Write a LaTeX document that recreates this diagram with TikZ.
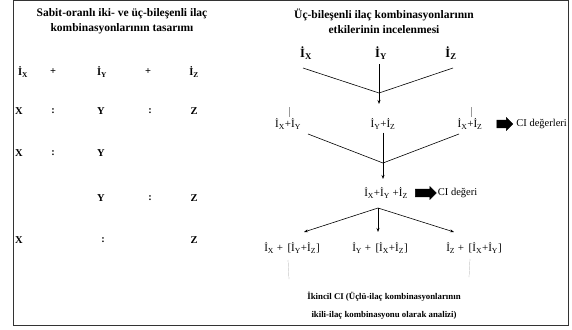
\documentclass[tikz,border=0pt]{standalone}
\usepackage{fontspec}
\setmainfont{Liberation Serif}
\usetikzlibrary{arrows.meta,positioning,shapes.arrows}

\newcommand{\drug}[1]{İ\textsubscript{#1}}

\begin{document}
\begin{tikzpicture}[
		x=1pt, y=-1pt,
		font=\fontsize{11}{13}\selectfont,
		>={Stealth[length=4pt,width=3pt]},
		title/.style={font=\fontsize{11.5}{15}\selectfont\bfseries, align=center, inner sep=0pt},
		cell/.style={font=\fontsize{10.5}{12}\selectfont\bfseries, inner sep=1pt},
		topdrug/.style={font=\fontsize{12.5}{14}\selectfont\bfseries, inner sep=1pt},
		combo/.style={inner sep=1pt},
		fatarrow/.style={
			single arrow, fill=black, draw=black,
			minimum height=16pt, minimum width=13pt,
			single arrow head extend=2.5pt, inner sep=3.5pt
		},
		cilabel/.style={font=\fontsize{10.5}{12}\selectfont, inner sep=0pt},
		line/.style={semithick},
		arr/.style={->, semithick},
		tick/.style={very thin, black!40},
		note/.style={font=\fontsize{8.8}{18}\selectfont\bfseries, align=center, inner sep=0pt}
	]
	
	\useasboundingbox (0,0) rectangle (572,329);
	\draw[black!80, line width=1pt] (13.5,1) rectangle (568.5,325.5);
	
	%% --- left: fixed-ratio design ---------------------------------------
	\node[title] (ltitle) at (122,21) {Sabit-oranlı iki- ve üç-bileşenli ilaç\\kombinasyonlarının tasarımı};
	
	\node[cell] (ax) at (23,72) {\drug{X}};
	\node[cell] (ap1) at (53,72) {+};
	\node[cell] (ay) at (102,72) {\drug{Y}};
	\node[cell] (ap2) at (148,72) {+};
	\node[cell] (az) at (194,72) {\drug{Z}};
	
	\node[cell] (bx) at (19,111) {X};
	\node[cell] (bc1) at (53,111) {:};
	\node[cell] (by) at (101,111) {Y};
	\node[cell] (bc2) at (150,111) {:};
	\node[cell] (bz) at (194,111) {Z};
	
	\node[cell] (cx) at (19,153) {X};
	\node[cell] (cc1) at (53,153) {:};
	\node[cell] (cy) at (101,153) {Y};
	
	\node[cell] (dy) at (101,198) {Y};
	\node[cell] (dc1) at (150,198) {:};
	\node[cell] (dz) at (194,198) {Z};
	
	\node[cell] (ex) at (19,240) {X};
	\node[cell] (ec1) at (103,240) {:};
	\node[cell] (ez) at (194,240) {Z};
	
	%% --- right: three-component analysis ------------------------------
	\node[title] (rtitle) at (384,21) {Üç-bileşenli ilaç kombinasyonlarının\\etkilerinin incelenmesi};
	
	\node[topdrug] (tx) at (306,53) {\drug{X}};
	\node[topdrug] (ty) at (381,53) {\drug{Y}};
	\node[topdrug] (tz) at (451,53) {\drug{Z}};
	
	\coordinate (v1) at (379,93);
	\coordinate (v1end) at (379,104);
	\draw[line] (303,68) -- (v1) -- (453,68);
	\draw[arr] (379,64) -- (v1end);
	
	\node[combo] (pxy) at (288,124) {\drug{X}+\drug{Y}};
	\node[combo] (pyz) at (383,124) {\drug{Y}+\drug{Z}};
	\node[combo] (pxz) at (470,124) {\drug{X}+\drug{Z}};
	\node[fatarrow] (f1) at (503,124) {};
	\node[cilabel, right=3pt of f1] (ci1) {CI değerleri};
	
	\draw[tick] (289,107) -- (289,117);
	\draw[tick] (471,107) -- (471,117);
	
	\coordinate (v2) at (383,163);
	\coordinate (v2end) at (383,179);
	\draw[line] (308,134) -- (v2) -- (459,134);
	\draw[arr] (pyz.south) ++(0,2) -- (v2end);
	
	\node[combo] (pxyz) at (386,193) {\drug{X}+\drug{Y} +\drug{Z}};
	\node[fatarrow, minimum height=21pt] (f2) at (424,193) {};
	\node[cilabel, right=1pt of f2] (ci2) {CI değeri};
	
	\coordinate (s3) at (378,208);
	\draw[arr] (s3) -- (304,232);
	\draw[arr] (s3) -- (378,232);
	\draw[arr] (s3) -- (454,232);
	
	\node[combo] (qx) at (292,248) {\drug{X} + \,[\drug{Y}+\drug{Z}]};
	\node[combo] (qy) at (380,248) {\drug{Y} + \,[\drug{X}+\drug{Z}]};
	\node[combo] (qz) at (474,248) {\drug{Z} + \,[\drug{X}+\drug{Y}]};
	
	\draw[tick] (288,260) -- (289,279);
	\draw[tick] (470,259) -- (469,277);
	
	\node[note] (sec) at (384,306) {İkincil CI (Üçlü-ilaç kombinasyonlarının\\ikili-ilaç kombinasyonu olarak analizi)};
	
\end{tikzpicture}
\end{document}
